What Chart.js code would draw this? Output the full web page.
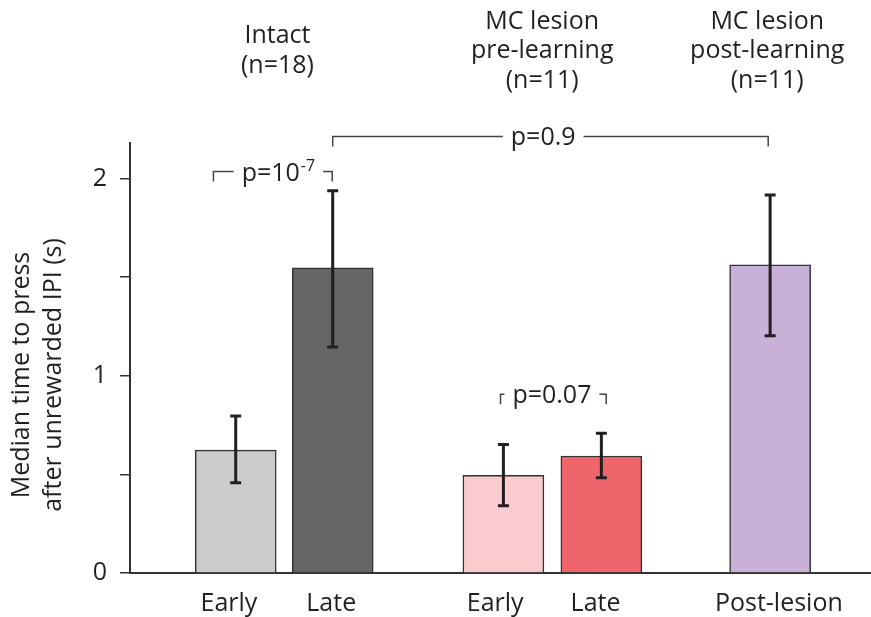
<!doctype html>
<html lang="en">
<head>
<meta charset="UTF-8">
<title>Median time to press after unrewarded IPI</title>
<script src="https://cdn.jsdelivr.net/npm/chart.js"></script>
<style>
  body { margin: 0; background: #fff; }
  #wrap { width: 871px; height: 617px; }
</style>
</head>
<body>
<div id="wrap"><canvas id="chart"></canvas></div>
<script>
  // bars (x in bar-spacing units, Early intact = 1)
  const barLabels = ['Early', 'Late', 'Early', 'Late', 'Post-lesion'];
  const barPos = [1, 2, 3.76, 4.77, 6.51];
  const labelPos = [0.93, 1.985, 3.675, 4.71, 6.6];
  const medians = [0.623, 1.547, 0.495, 0.593, 1.562];
  const errLow = [0.458, 1.146, 0.341, 0.483, 1.203];
  const errHigh = [0.796, 1.938, 0.651, 0.708, 1.917];
  const barColors = ['#cccccc', '#666666', '#f9cbce', '#f0646b', '#c9b0d6'];

  const yTicks = [0, 0.5, 1, 1.5, 2];
  const yTickLabels = ['0', '', '1', '', '2'];
  const yTitle = ['Median time to press', 'after unrewarded IPI (s)'];

  // group headers
  const groupTitles = [['Intact', '(n=18)'], ['MC lesion', 'pre-learning', '(n=11)'], ['MC lesion', 'post-learning', '(n=11)']];
  const groupPos = [1.43, 4.16, 6.48];

  // comparison brackets
  const compFrom = [0.77, 2.0, 3.73];
  const compTo = [1.995, 6.49, 4.82];
  const compMid = [1.44, 4.17, 4.26];
  const compY = [2.035, 2.213, 0.906];
  const compText = ['p=10', 'p=0.9', 'p=0.07'];
  const compSup = ['-7', '', ''];

  const FONT = '"Open Sans", "DejaVu Sans", sans-serif';
  const FS = 25;
  const TEXT = '#231f20';

  const annotate = {
    id: 'annotate',
    afterDatasetsDraw(chart) {
      const { ctx, scales: { x, y } } = chart;
      const meta = chart.getDatasetMeta(0);
      ctx.save();

      // error bars
      ctx.strokeStyle = '#231f20';
      ctx.lineWidth = 3;
      meta.data.forEach((bar, i) => {
        const cx = bar.x;
        const top = y.getPixelForValue(errHigh[i]);
        const bot = y.getPixelForValue(errLow[i]);
        ctx.beginPath();
        ctx.moveTo(cx, top); ctx.lineTo(cx, bot);
        ctx.moveTo(cx - 5.5, top); ctx.lineTo(cx + 5.5, top);
        ctx.moveTo(cx - 5.5, bot); ctx.lineTo(cx + 5.5, bot);
        ctx.stroke();
      });

      // brackets with p values
      ctx.strokeStyle = '#444';
      ctx.lineWidth = 1.5;
      ctx.fillStyle = TEXT;
      ctx.textBaseline = 'alphabetic';
      compText.forEach((t, i) => {
        const x1 = x.getPixelForValue(compFrom[i]);
        const x2 = x.getPixelForValue(compTo[i]);
        const xm = x.getPixelForValue(compMid[i]);
        const ly = y.getPixelForValue(compY[i]);
        ctx.font = FS + 'px ' + FONT;
        const w1 = ctx.measureText(t).width;
        ctx.font = '16px ' + FONT;
        const w2 = compSup[i] ? ctx.measureText(compSup[i]).width + 1 : 0;
        const w = w1 + w2;
        const tl = xm - w / 2;
        const tr = xm + w / 2;
        ctx.beginPath();
        ctx.moveTo(x1, ly + 10); ctx.lineTo(x1, ly); ctx.lineTo(tl - 8, ly);
        ctx.moveTo(tr + 8, ly); ctx.lineTo(x2, ly); ctx.lineTo(x2, ly + 10);
        ctx.stroke();
        ctx.textAlign = 'left';
        ctx.font = FS + 'px ' + FONT;
        ctx.fillText(t, tl, ly + 9);
        if (compSup[i]) {
          ctx.font = '16px ' + FONT;
          ctx.fillText(compSup[i], tl + w1 + 1, ly - 1);
        }
      });
      ctx.restore();
    },
    afterDraw(chart) {
      const { ctx, scales: { x } } = chart;
      ctx.save();
      ctx.fillStyle = TEXT;
      ctx.font = FS + 'px ' + FONT;
      ctx.textAlign = 'center';
      ctx.textBaseline = 'middle';
      groupTitles.forEach((lines, i) => {
        const cx = x.getPixelForValue(groupPos[i]);
        const start = 51 - (lines.length - 1) * 29.5 / 2;
        lines.forEach((l, j) => ctx.fillText(l, cx, start + j * 29.5));
      });

      // y axis title, rotated
      ctx.translate(0, 375);
      ctx.rotate(-Math.PI / 2);
      ctx.textBaseline = 'alphabetic';
      ctx.fillText(yTitle[0], 0, 29);
      ctx.fillText(yTitle[1], 0, 60.5);
      ctx.restore();
    }
  };

  new Chart(document.getElementById('chart'), {
    type: 'bar',
    data: {
      datasets: [{
        data: barPos.map((p, i) => ({ x: p, y: medians[i] })),
        backgroundColor: barColors,
        borderColor: '#333',
        borderWidth: 1.5,
        barThickness: 81
      }]
    },
    options: {
      responsive: true,
      maintainAspectRatio: false,
      animation: false,
      layout: { padding: { top: 143, left: 0, right: 0, bottom: 0 } },
      plugins: {
        legend: { display: false },
        tooltip: { enabled: false }
      },
      scales: {
        x: {
          type: 'linear',
          min: -0.09,
          max: 7.55,
          offset: false,
          afterFit(s) { s.height = 44; },
          afterBuildTicks(s) { s.ticks = labelPos.map(v => ({ value: v })); },
          grid: { display: false },
          border: { display: true, color: '#333', width: 2 },
          ticks: {
            autoSkip: false,
            maxRotation: 0,
            padding: 8,
            color: TEXT,
            font: { family: FONT, size: FS },
            callback: (v, i) => barLabels[i]
          }
        },
        y: {
          min: 0,
          max: 2.18,
          afterFit(s) { s.width = 130; },
          afterBuildTicks(s) { s.ticks = yTicks.map(v => ({ value: v })); },
          grid: { drawOnChartArea: false, drawTicks: true, tickLength: 10, color: '#333', lineWidth: 1.5 },
          border: { display: true, color: '#333', width: 2 },
          ticks: {
            padding: 13,
            color: TEXT,
            font: { family: FONT, size: FS },
            callback: (v, i) => yTickLabels[i]
          }
        }
      }
    },
    plugins: [annotate]
  });
</script>
</body>
</html>
